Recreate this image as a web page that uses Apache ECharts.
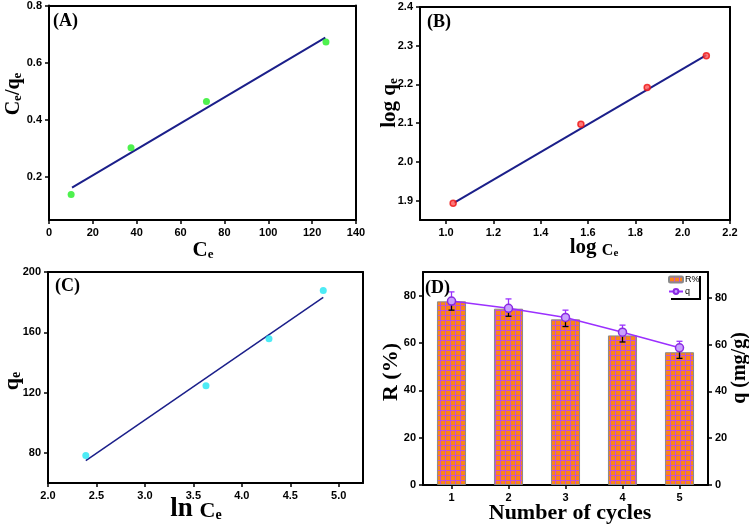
<!DOCTYPE html>
<html><head><meta charset="utf-8">
<script src="https://cdn.jsdelivr.net/npm/echarts@6/dist/echarts.min.js"></script>
<style>html,body{margin:0;padding:0;background:#fff}#c{width:749px;height:525px}</style>
</head><body><div id="c"></div>
<script>
// ---- Panel A: Langmuir ----
const A_ce = [10.1, 37.4, 71.8, 126.3];
const A_ratio = [0.139, 0.303, 0.464, 0.672];
const A_fitX = [10.5, 126];
const A_fitY = [0.163, 0.688];
const A_xTicks = [0, 20, 40, 60, 80, 100, 120, 140];
const A_yTicks = [0.2, 0.4, 0.6, 0.8];
// ---- Panel B: Freundlich ----
const B_logCe = [1.03, 1.57, 1.85, 2.10];
const B_logQe = [1.893, 2.097, 2.192, 2.274];
const B_fitX = [1.035, 2.10];
const B_fitY = [1.895, 2.276];
const B_xTicks = [1.0, 1.2, 1.4, 1.6, 1.8, 2.0, 2.2];
const B_yTicks = [1.9, 2.0, 2.1, 2.2, 2.3, 2.4];
// ---- Panel C: Temkin ----
const C_lnCe = [2.39, 3.63, 4.28, 4.84];
const C_qe = [78.2, 124.5, 155.7, 187.7];
const C_fitX = [2.39, 4.84];
const C_fitY = [74.9, 183.1];
const C_xTicks = [2.0, 2.5, 3.0, 3.5, 4.0, 4.5, 5.0];
const C_yTicks = [80, 120, 160, 200];
// ---- Panel D: reuse cycles ----
const D_cycles = ['1', '2', '3', '4', '5'];
const D_R = [77.6, 74.5, 70.0, 63.2, 56.1];
const D_q = [78.6, 75.5, 71.6, 65.3, 58.6];
const D_qErrUp = [3.9, 4.0, 3.1, 3.0, 2.8];
const D_qErrDown = [3.9, 3.4, 3.9, 4.2, 4.5];
const D_yTicks = [0, 20, 40, 60, 80];

const SANS = '"Liberation Sans", Arial, sans-serif';
const SERIF = '"Liberation Serif", "Times New Roman", serif';

// hatch pattern for bars
const pat = document.createElement('canvas');
pat.width = 5; pat.height = 5;
const pc = pat.getContext('2d');
pc.fillStyle = '#fb8418'; pc.fillRect(0, 0, 5, 5);
pc.fillStyle = '#c24fd8'; pc.fillRect(0, 0, 1, 5); pc.fillRect(0, 0, 5, 1);

const chart = echarts.init(document.getElementById('c'), null, {renderer: 'canvas'});

function valAxis(gi, min, max, ticks, fmt, extra) {
  return Object.assign({
    type: 'value', gridIndex: gi, min: min, max: max,
    axisLine: {show: true, onZero: false, lineStyle: {color: '#000', width: 2}},
    axisTick: {show: true, inside: false, length: 4, lineStyle: {color: '#000', width: 1.5}, customValues: ticks},
    axisLabel: {color: '#000', fontFamily: SANS, fontWeight: 'bold', fontSize: 11, margin: 7,
      customValues: ticks, formatter: fmt},
    splitLine: {show: false}
  }, extra || {});
}
function frameAxis(gi, pos) {
  return {type: 'value', gridIndex: gi, position: pos, min: 0, max: 1,
    axisLine: {show: true, onZero: false, lineStyle: {color: '#000', width: 2}},
    axisTick: {show: false}, axisLabel: {show: false}, splitLine: {show: false}};
}
const f1 = v => v.toFixed(1);
const f0 = v => String(Math.round(v));

const grids = [
  {left: 49, top: 5, width: 307, height: 215},
  {left: 420, top: 7, width: 310, height: 213},
  {left: 48, top: 272, width: 315, height: 211},
  {left: 423, top: 272, width: 285, height: 213}
];

const rich = (big, sub) => ({
  b: {fontFamily: SERIF, fontWeight: 'bold', fontSize: big, lineHeight: big + 2, verticalAlign: 'bottom', fill: '#000'},
  s: {fontFamily: SERIF, fontWeight: 'bold', fontSize: sub, lineHeight: sub, verticalAlign: 'bottom', fill: '#000'}
});
function label(x, y, text, r, rot) {
  return {type: 'text', x: x, y: y, rotation: rot || 0, z: 100,
    style: {text: text, rich: r, align: 'center', verticalAlign: 'middle', fill: '#000',
      fontFamily: SERIF, fontWeight: 'bold'}};
}
function panelTag(x, y, t) {
  return {type: 'text', x: x, y: y, z: 100,
    style: {text: t, fontFamily: SERIF, fontWeight: 'bold', fontSize: 18, fill: '#000', align: 'left', verticalAlign: 'middle'}};
}

const pair = (xs, ys) => xs.map((x, i) => [x, ys[i]]);

const option = {
  animation: false,
  backgroundColor: '#fff',
  grid: grids,
  xAxis: [
    valAxis(0, 0, 140, A_xTicks, f0),
    valAxis(1, 0.89, 2.2, B_xTicks, f1),
    valAxis(2, 2.0, 5.25, C_xTicks, f1),
    {type: 'category', gridIndex: 3, data: D_cycles, boundaryGap: true,
      axisLine: {show: true, lineStyle: {color: '#000', width: 2}},
      axisTick: {show: true, alignWithLabel: true, length: 4, lineStyle: {color: '#000', width: 1.5}},
      axisLabel: {color: '#000', fontFamily: SANS, fontWeight: 'bold', fontSize: 11, margin: 7},
      splitLine: {show: false}},
    frameAxis(0, 'top'), frameAxis(1, 'top'), frameAxis(2, 'top'), frameAxis(3, 'top')
  ],
  yAxis: [
    valAxis(0, 0.05, 0.8, A_yTicks, f1),
    valAxis(1, 1.85, 2.4, B_yTicks, f1),
    valAxis(2, 60, 200, C_yTicks, f0),
    valAxis(3, 0, 90, D_yTicks, f0),
    valAxis(3, 0, 91, D_yTicks, f0, {position: 'right'}),
    frameAxis(0, 'right'), frameAxis(1, 'right'), frameAxis(2, 'right')
  ],
  legend: {
    left: 668, top: 275, orient: 'vertical', itemWidth: 14, itemHeight: 6, itemGap: 3,
    textStyle: {fontSize: 9, fontFamily: SANS, color: '#000', padding: [0, 0, 0, -3]},
    padding: 0, data: ['R%', 'q']
  },
  series: [
    {type: 'scatter', xAxisIndex: 0, yAxisIndex: 0, data: pair(A_ce, A_ratio), symbol: 'circle', symbolSize: 7,
      itemStyle: {color: '#22ee22'}, z: 5},
    {type: 'line', xAxisIndex: 0, yAxisIndex: 0, data: pair(A_fitX, A_fitY), showSymbol: false,
      lineStyle: {color: '#1b1f8a', width: 2}},
    {type: 'scatter', xAxisIndex: 1, yAxisIndex: 1, data: pair(B_logCe, B_logQe), symbol: 'circle', symbolSize: 6,
      itemStyle: {color: '#ff5555', borderColor: '#ee1111', borderWidth: 1.5}, z: 5},
    {type: 'line', xAxisIndex: 1, yAxisIndex: 1, data: pair(B_fitX, B_fitY), showSymbol: false,
      lineStyle: {color: '#1b1f8a', width: 2}},
    {type: 'scatter', xAxisIndex: 2, yAxisIndex: 2, data: pair(C_lnCe, C_qe), symbol: 'circle', symbolSize: 7,
      itemStyle: {color: '#22e6f2'}, z: 5},
    {type: 'line', xAxisIndex: 2, yAxisIndex: 2, data: pair(C_fitX, C_fitY), showSymbol: false,
      lineStyle: {color: '#1b1f8a', width: 1.5}},
    {name: 'R%', type: 'bar', xAxisIndex: 3, yAxisIndex: 3, data: D_R, barWidth: '51%',
      itemStyle: {color: {image: pat, repeat: 'repeat'}, borderColor: '#8a8a8a', borderWidth: 1}},
    {name: 'q', type: 'line', xAxisIndex: 3, yAxisIndex: 4, data: D_q, symbol: 'circle', symbolSize: 8,
      lineStyle: {color: '#9b30ff', width: 1.5},
      itemStyle: {color: '#c9a0ff', borderColor: '#8a2be2', borderWidth: 1.5}, z: 6},
    {type: 'custom', xAxisIndex: 3, yAxisIndex: 4, z: 5,
      data: D_q.map((v, i) => [i, v, D_qErrUp[i], D_qErrDown[i]]),
      renderItem: function (params, api) {
        const i = api.value(0), v = api.value(1), up = api.value(2), dn = api.value(3);
        const p = api.coord([i, v]), pu = api.coord([i, v + up]), pd = api.coord([i, v - dn]);
        const w = 3;
        return {type: 'group', children: [
          {type: 'line', shape: {x1: p[0], y1: p[1], x2: pu[0], y2: pu[1]}, style: {stroke: '#9b30ff', lineWidth: 1.3}},
          {type: 'line', shape: {x1: pu[0] - w, y1: pu[1], x2: pu[0] + w, y2: pu[1]}, style: {stroke: '#9b30ff', lineWidth: 1.3}},
          {type: 'line', shape: {x1: p[0], y1: p[1], x2: pd[0], y2: pd[1]}, style: {stroke: '#000', lineWidth: 1.3}},
          {type: 'line', shape: {x1: pd[0] - w, y1: pd[1], x2: pd[0] + w, y2: pd[1]}, style: {stroke: '#000', lineWidth: 1.3}}
        ]};
      }}
  ],
  graphic: [
    panelTag(53, 21, '(A)'),
    panelTag(427, 22, '(B)'),
    panelTag(55, 286, '(C)'),
    panelTag(425, 288, '(D)'),
    label(13, 94, '{b|C}{s|e}{b|/q}{s|e}', rich(20, 13), Math.PI / 2),
    label(203, 250, '{b|C}{s|e}', rich(21, 13)),
    label(389, 103, '{b|log q}{s|e}', rich(21, 13), Math.PI / 2),
    label(594, 247, '{b|log }{m|C}{s|e}', Object.assign(rich(21, 11), {m: {fontFamily: SERIF, fontWeight: 'bold', fontSize: 16, lineHeight: 16, verticalAlign: 'bottom'}})),
    label(11, 381, '{b|q}{s|e}', rich(22, 14), Math.PI / 2),
    label(196, 508, '{b|ln }{m|C}{s|e}', Object.assign(rich(27, 14), {m: {fontFamily: SERIF, fontWeight: 'bold', fontSize: 22, lineHeight: 22, verticalAlign: 'bottom'}})),
    label(390, 372, '{b|R (%)}', rich(22, 14), Math.PI / 2),
    label(739, 368, '{b|q (mg/g)}', rich(20, 14), Math.PI / 2),
    label(570, 512, '{b|Number of cycles}', rich(22, 14)),
    {type: 'polyline', z: 100, shape: {points: [[671, 299], [700, 299], [700, 276]]},
      style: {stroke: '#000', lineWidth: 2, fill: null}}
  ]
};
chart.setOption(option);
</script>
</body></html>
